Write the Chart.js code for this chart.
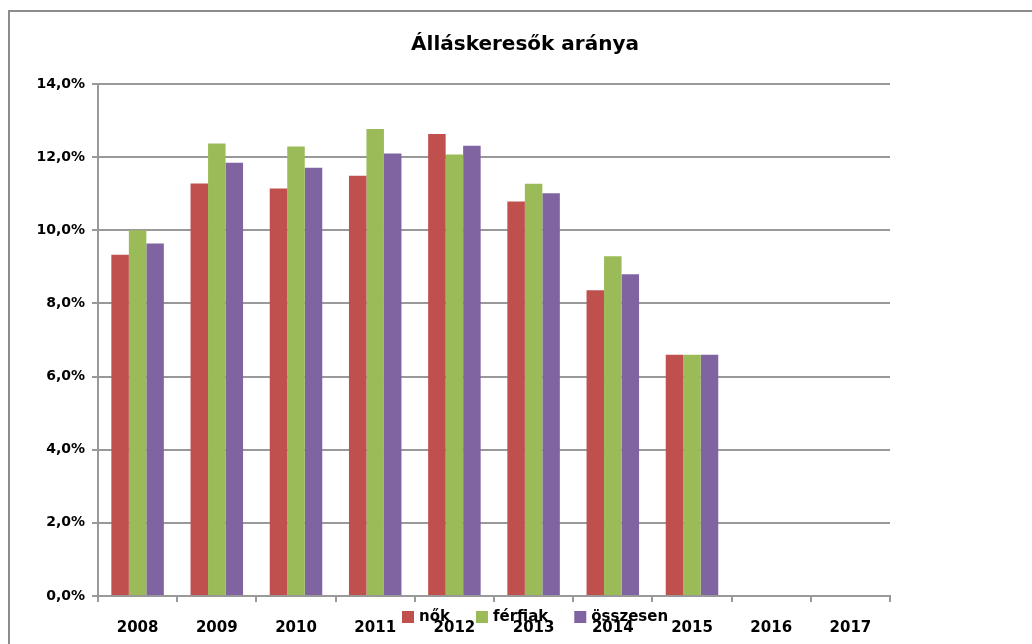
<!DOCTYPE html>
<html>
<head>
<meta charset="utf-8">
<script src="https://cdn.jsdelivr.net/npm/chart.js@4/dist/chart.umd.min.js"></script>
<style>
    body { margin: 0; background: #ffffff; }
    #wrap { width: 1032px; height: 644px; position: relative; }
</style>
</head>
<body>
<div id="wrap"><canvas id="rateChart"></canvas></div>
<script>

/* =========================
DATA
========================= */

const years = ["2008", "2009", "2010", "2011", "2012", "2013", "2014", "2015", "2016", "2017"];

const nokValues = [9.33, 11.28, 11.14, 11.49, 12.63, 10.79, 8.36, 6.6, null, null];

const ferfiakValues = [10.0, 12.37, 12.29, 12.77, 12.07, 11.27, 9.29, 6.6, null, null];

const osszesenValues = [9.64, 11.85, 11.71, 12.1, 12.31, 11.01, 8.8, 6.6, null, null];

const seriesNames = ["nők", "férfiak", "összesen"];

const seriesColors = ["#c0504d", "#9bbb59", "#8064a2"];

const yTicks = [0, 2, 4, 6, 8, 10, 12, 14];

const FONT = "'DejaVu Sans', Verdana, sans-serif";
const GRID = "#999999";

/* =========================
FRAME + LEGEND PLUGIN
========================= */

const framePlugin = {

    id: "frame",

    beforeDraw(chart) {

        const c = chart.ctx;

        c.save();
        c.strokeStyle = "#8c8c8c";
        c.lineWidth = 2;
        c.beginPath();
        c.moveTo(9, 650);
        c.lineTo(9, 11);
        c.lineTo(1040, 11);
        c.stroke();
        c.restore();

    },

    afterDraw(chart) {

        // legend sits on top of the year labels, like the original
        const c = chart.ctx;
        let x = 402;
        const y = 617;

        c.save();
        c.font = "bold 15px " + FONT;
        c.textBaseline = "middle";

        chart.data.datasets.forEach(ds => {

            c.fillStyle = ds.backgroundColor;
            c.fillRect(x, y - 6, 12, 12);

            c.fillStyle = "#000000";
            c.fillText(ds.label, x + 17, y);

            x += 17 + c.measureText(ds.label).width + 26;

        });

        c.restore();

    }

};

/* =========================
CHART
========================= */

const ctx = document.getElementById("rateChart");

new Chart(ctx, {

    type: "bar",

    data: {

        labels: years,

        datasets: [

            {
                label: seriesNames[0],
                data: nokValues,
                backgroundColor: seriesColors[0]
            },

            {
                label: seriesNames[1],
                data: ferfiakValues,
                backgroundColor: seriesColors[1]
            },

            {
                label: seriesNames[2],
                data: osszesenValues,
                backgroundColor: seriesColors[2]
            }

        ]

    },

    options: {

        responsive: true,
        maintainAspectRatio: false,
        animation: false,

        layout: {
            padding: { left: 18, right: 0, top: 0, bottom: 0 }
        },

        datasets: {
            bar: {
                categoryPercentage: 0.663,
                barPercentage: 1.0
            }
        },

        plugins: {

            legend: { display: false },

            tooltip: { enabled: false },

            title: {
                display: true,
                text: "Álláskeresők aránya",
                color: "#000000",
                font: { family: FONT, size: 20, weight: "bold" },
                padding: { top: 33, bottom: 27 }
            }

        },

        scales: {

            x: {

                grid: {
                    offset: true,
                    drawOnChartArea: false,
                    drawTicks: true,
                    tickLength: 6,
                    lineWidth: 2,
                    color: GRID
                },

                border: { color: GRID, width: 2 },

                ticks: {
                    color: "#000000",
                    padding: 17,
                    maxRotation: 0,
                    font: { family: FONT, size: 15, weight: "bold" }
                },

                afterFit(scale) {
                    scale.height = 48;
                }

            },

            y: {

                min: 0,
                max: 14,

                afterBuildTicks(scale) {
                    scale.ticks = yTicks.map(v => ({ value: v }));
                },

                grid: {
                    color: GRID,
                    lineWidth: 2,
                    tickLength: 6
                },

                border: { color: GRID, width: 2 },

                ticks: {
                    color: "#000000",
                    padding: 7,
                    font: { family: FONT, size: 14, weight: "bold" },
                    callback: value => value.toFixed(1).replace(".", ",") + "%"
                },

                afterFit(scale) {
                    scale.width = 80;
                }

            },

            spacer: {

                // empty room on the right of the plot, as in the original
                position: "right",
                display: true,
                grid: { display: false },
                border: { display: false },
                ticks: { display: false },

                afterFit(scale) {
                    scale.width = 142;
                }

            }

        }

    },

    plugins: [framePlugin]

});

</script>
</body>
</html>
